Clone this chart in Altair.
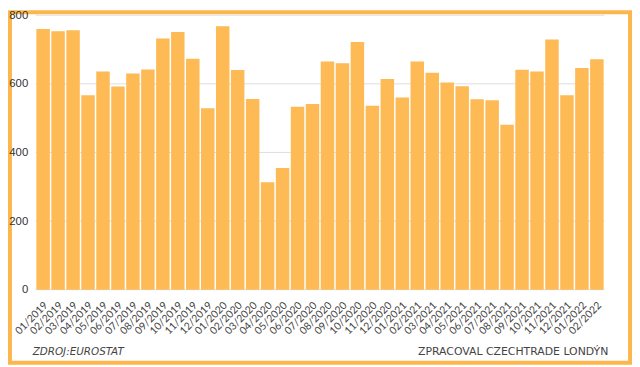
import altair as alt
import pandas as pd

months = [
    "01/2019", "02/2019", "03/2019", "04/2019", "05/2019", "06/2019", "07/2019", "08/2019",
    "09/2019", "10/2019", "11/2019", "12/2019", "01/2020", "02/2020", "03/2020", "04/2020",
    "05/2020", "06/2020", "07/2020", "08/2020", "09/2020", "10/2020", "11/2020", "12/2020",
    "01/2021", "02/2021", "03/2021", "04/2021", "05/2021", "06/2021", "07/2021", "08/2021",
    "09/2021", "10/2021", "11/2021", "12/2021", "01/2022", "02/2022",
]
values = [
    760, 753, 756, 567, 636, 592, 630, 642,
    732, 751, 673, 529, 768, 640, 556, 313,
    355, 533, 541, 665, 660, 722, 536, 614,
    560, 665, 632, 604, 593, 555, 552, 481,
    641, 636, 729, 567, 646, 672,
]
y_ticks = [0, 200, 400, 600, 800]
source_text = "ZDROJ:EUROSTAT"
credit_text = "ZPRACOVAL CZECHTRADE LONDÝN"

df = pd.DataFrame({"month": months, "value": values})
grid_df = pd.DataFrame({"value": y_ticks})

BAR = "#FDBA55"
FRAME = "#FDB64C"

y_scale = alt.Scale(domain=[0, 800], nice=False)
y_axis = alt.Axis(
    title=None,
    values=y_ticks,
    labelFont="Liberation Sans",
    labelFontSize=11.5,
    labelColor="#333333",
    labelPadding=8,
    domain=False,
    ticks=False,
    grid=False,
    zindex=1,
)

frame = alt.Chart(pd.DataFrame({"k": [0]})).mark_rect(
    fill="transparent", stroke=FRAME, strokeWidth=4
).encode(
    x=alt.value(-26), x2=alt.value(602), y=alt.value(-3), y2=alt.value(352)
)

grid = alt.Chart(grid_df).mark_rule(color="#DDDDDD", strokeWidth=1).encode(
    y=alt.Y("value:Q", scale=y_scale, axis=y_axis),
    x=alt.value(0),
    x2=alt.value(576),
)

bars = alt.Chart(df).mark_bar(color=BAR).encode(
    x=alt.X(
        "month:N",
        sort=None,
        scale=alt.Scale(paddingInner=0.1, paddingOuter=0.05),
        axis=alt.Axis(
            title=None,
            labelAngle=-45,
            labelAlign="right",
            labelBaseline="middle",
            labelPadding=14,
            labelOffset=3,
            labelFont="Lato",
            labelFontSize=10.5,
            labelColor="#444444",
            domain=False,
            ticks=False,
            grid=False,
            zindex=1,
        ),
    ),
    y=alt.Y("value:Q", scale=y_scale, axis=y_axis),
)

src = alt.Chart(pd.DataFrame({"t": [source_text]})).mark_text(
    align="left", baseline="middle", font="DejaVu Sans", fontSize=10.5,
    fontStyle="italic", color="#444444"
).encode(text="t:N", x=alt.value(-3), y=alt.value(341))

credit = alt.Chart(pd.DataFrame({"t": [credit_text]})).mark_text(
    align="right", baseline="middle", font="DejaVu Sans", fontSize=11,
    color="#444444"
).encode(text="t:N", x=alt.value(580), y=alt.value(341))

chart = alt.layer(frame, grid, bars, src, credit).resolve_scale(y="shared").properties(
    width=576,
    height=278,
    autosize=alt.AutoSizeParams(type="none"),
    padding={"left": 28, "top": 5, "right": 28, "bottom": 76},
    background="white",
).configure_view(stroke=None)

chart.save("out.html", embed_options={"renderer": "svg", "actions": False})
